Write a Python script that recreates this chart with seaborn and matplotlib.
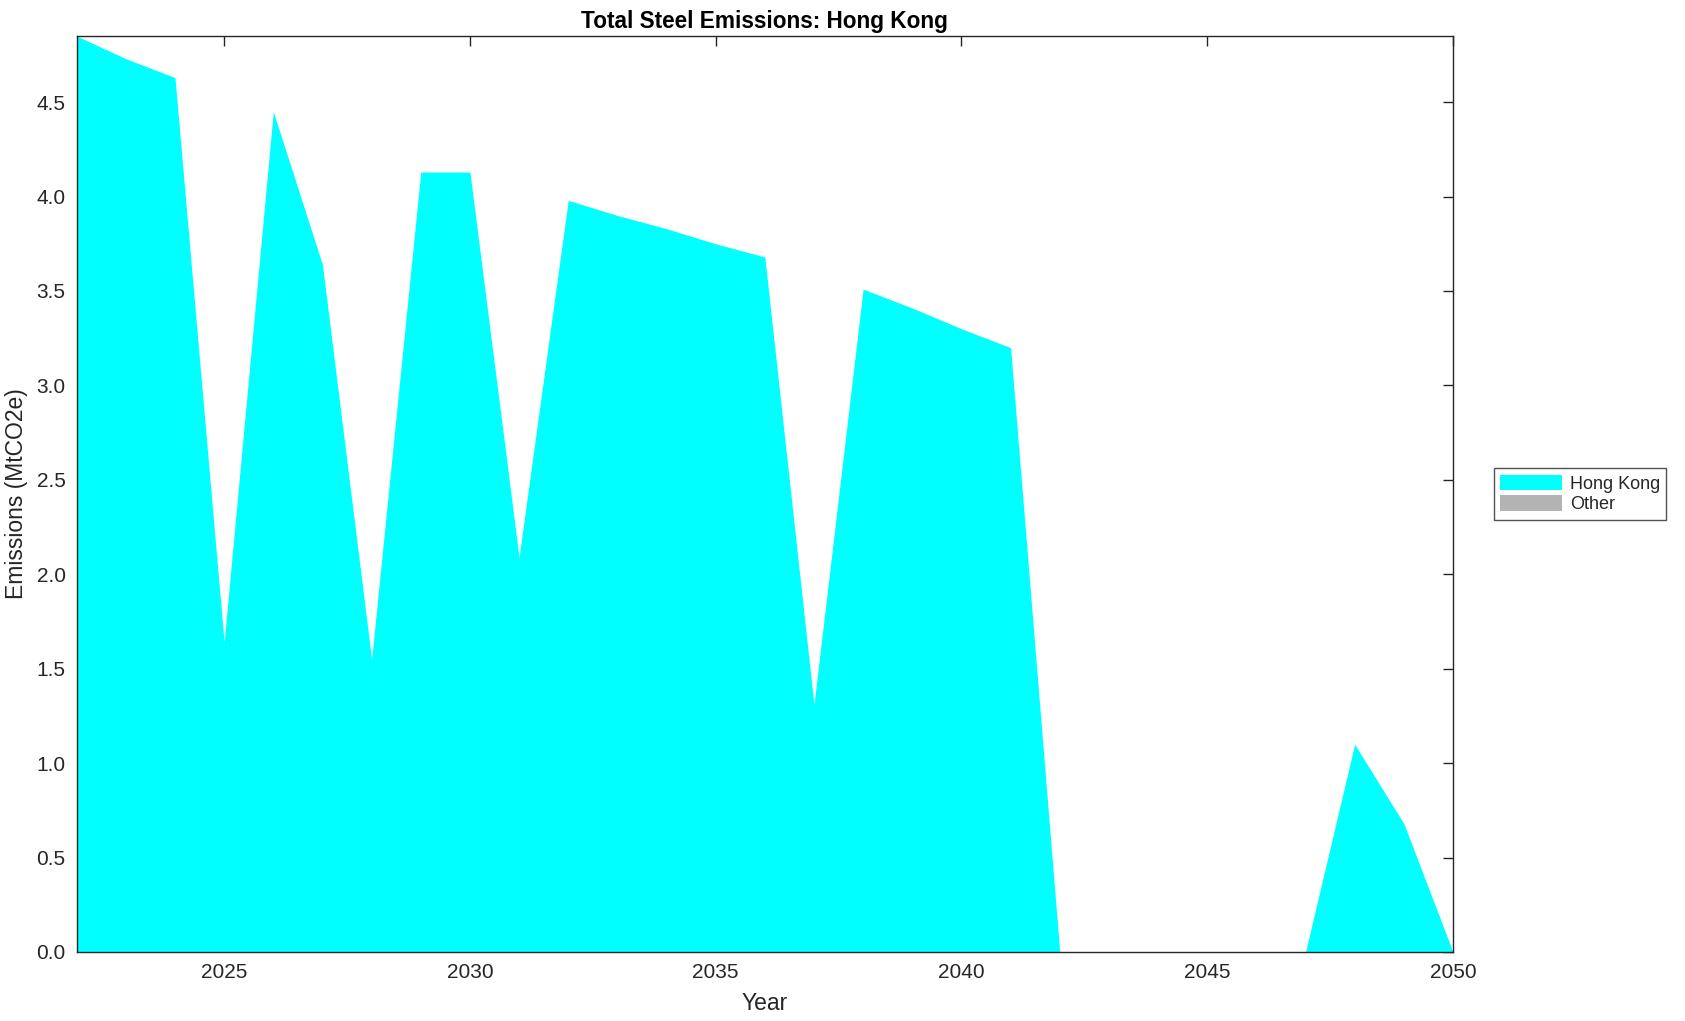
import numpy as np
import pandas as pd
import matplotlib
matplotlib.use("Agg")
import matplotlib.pyplot as plt
from matplotlib.patches import Patch
import seaborn as sns

years = list(range(2022, 2051))
hong_kong = [4.85, 4.73, 4.63, 1.64, 4.45, 3.64, 1.55, 4.13, 4.13, 2.09,
             3.98, 3.90, 3.83, 3.75, 3.68, 1.31, 3.51, 3.41, 3.30, 3.20,
             0.0, 0.0, 0.0, 0.0, 0.0, 0.0, 1.10, 0.68, 0.0]
other = [0.0] * len(years)
series_names = ["Hong Kong", "Other"]
x_ticks = [2025, 2030, 2035, 2040, 2045, 2050]
y_ticks = [0.0, 0.5, 1.0, 1.5, 2.0, 2.5, 3.0, 3.5, 4.0, 4.5]

df = pd.DataFrame({"Year": years, "Hong Kong": hong_kong, "Other": other})

sns.set_theme(style="white")
plt.rcParams["font.family"] = ["Liberation Sans", "DejaVu Sans"]

fig = plt.figure(figsize=(16.85, 10.21), dpi=100)
ax = fig.add_axes([0.0455, 0.0676, 0.8168, 0.8971])

colors = ["#00ffff", "#b3b3b3"]
ax.stackplot(df["Year"], df["Hong Kong"], df["Other"], colors=colors, linewidth=0)

ax.set_xlim(2022, 2050)
ax.set_ylim(0, max(hong_kong))
ax.set_xticks(x_ticks)
ax.set_yticks(y_ticks)
ax.set_yticklabels([f"{v:.1f}" for v in y_ticks])
ax.tick_params(direction="in", length=7, width=1, top=True, right=True,
               labelsize=15, colors="#262626", pad=8)
for s in ax.spines.values():
    s.set_color("#262626")
    s.set_linewidth(1)

ax.set_xlabel("Year", fontsize=16.5, color="#262626", labelpad=7)
ax.set_ylabel("Emissions (MtCO2e)", fontsize=16.5, color="#262626", labelpad=6)
ax.set_title("Total Steel Emissions: Hong Kong", fontsize=16.3, fontweight="bold",
             color="black", pad=6)

handles = [Patch(facecolor=c, edgecolor="none") for c in colors]
leg = ax.legend(handles, series_names, loc="center left",
                bbox_to_anchor=(0.8866, 0.5162), bbox_transform=fig.transFigure,
                borderaxespad=0, fontsize=13, frameon=True, fancybox=False,
                handlelength=3.4, handleheight=0.95, handletextpad=0.45,
                borderpad=0.35, labelspacing=0.15)
leg.get_frame().set_edgecolor("#262626")
leg.get_frame().set_linewidth(1)

fig.savefig("out.png", dpi=100)
